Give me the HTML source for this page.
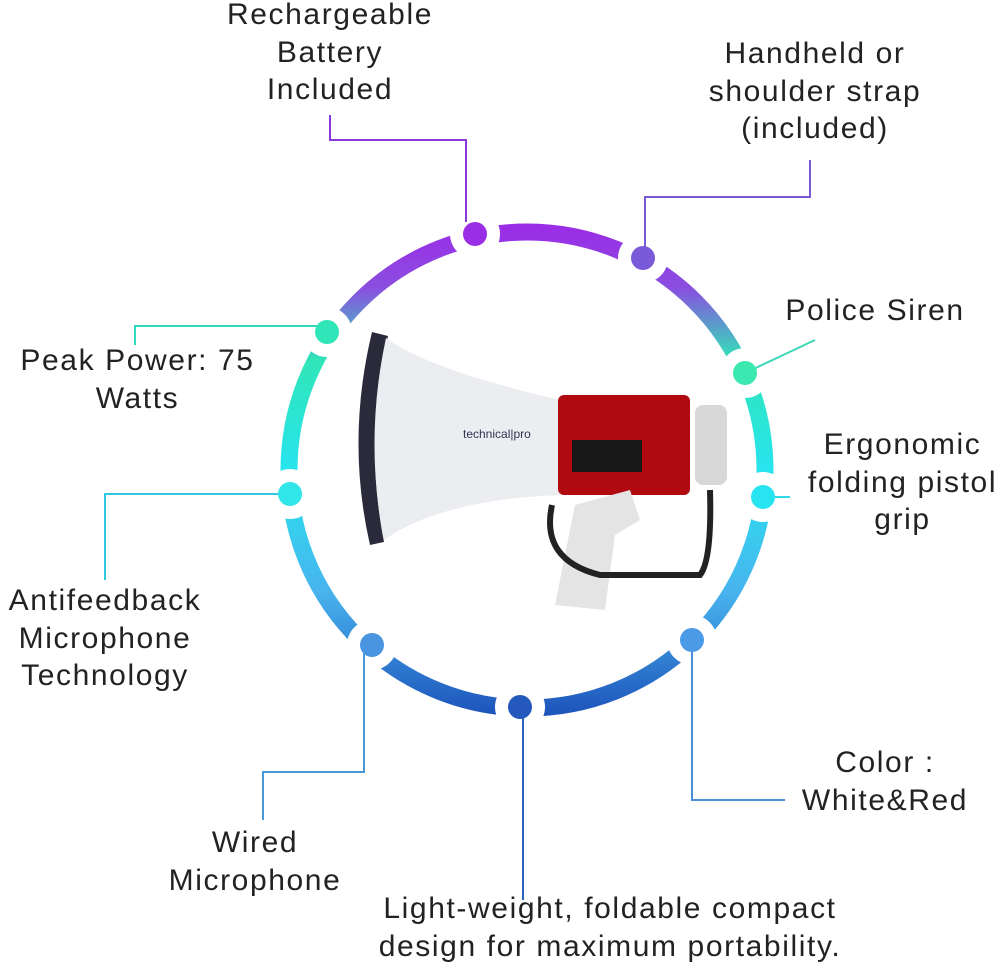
<!DOCTYPE html><html><head><style>
body{margin:0;width:1000px;height:969px;background:#fff;overflow:hidden;position:relative;font-family:"Liberation Sans",sans-serif;color:#222}
.t{position:absolute;font-size:30px;letter-spacing:1.6px;line-height:37.5px;text-align:center;white-space:nowrap}
</style></head><body>
<svg width="1000" height="969" style="position:absolute;left:0;top:0">
<defs>
<linearGradient id="g" x1="0" y1="230" x2="0" y2="712" gradientUnits="userSpaceOnUse">
<stop offset="0" stop-color="#9a2ee6"/><stop offset="0.12" stop-color="#8a4ee0"/><stop offset="0.27" stop-color="#30e6b8"/><stop offset="0.5" stop-color="#28e4ee"/><stop offset="0.75" stop-color="#48b4ee"/><stop offset="1" stop-color="#1e56bc"/>
</linearGradient>
</defs>
<circle cx="527" cy="470" r="238" fill="none" stroke="url(#g)" stroke-width="17"/>
<g fill="#fff">
<circle cx="475" cy="234" r="25"/><circle cx="643" cy="258" r="25"/><circle cx="745" cy="373" r="25"/><circle cx="763" cy="497" r="25"/><circle cx="692" cy="640" r="25"/><circle cx="520" cy="707" r="25"/><circle cx="372" cy="645" r="25"/><circle cx="290" cy="494" r="25"/><circle cx="327" cy="332" r="25"/>
</g>
<g fill="none" stroke-width="2">
<polyline points="466,222 466,140 330,140 330,115" stroke="#8a3ad8"/>
<polyline points="645,250 645,197 810,197 810,160" stroke="#7a5ad8"/>
<line x1="745" y1="373" x2="815" y2="340" stroke="#40d8b8"/>
<line x1="763" y1="497" x2="790" y2="497" stroke="#30d8e8"/>
<polyline points="327,326 135,326 135,345" stroke="#30d8c0"/>
<polyline points="290,494 105,494 105,580" stroke="#30c8e0"/>
<polyline points="364,645 364,772 263,772 263,820" stroke="#4898d8"/>
<line x1="523" y1="707" x2="523" y2="900" stroke="#2a60c0"/>
<polyline points="692,640 692,800 785,800" stroke="#4a90d8"/>
</g>
<circle cx="475" cy="234" r="12" fill="#9a2ee6"/><circle cx="643" cy="258" r="12" fill="#7a5ad8"/><circle cx="745" cy="373" r="12" fill="#3ae8b0"/><circle cx="763" cy="497" r="12" fill="#28e4f0"/><circle cx="692" cy="640" r="12" fill="#4a9ae6"/><circle cx="520" cy="707" r="12" fill="#2458bc"/><circle cx="372" cy="645" r="12" fill="#4a94e0"/><circle cx="290" cy="494" r="12" fill="#30e6e8"/><circle cx="327" cy="332" r="12" fill="#30e6b8"/>
<!-- megaphone -->
<path d="M372,332 Q346,440 370,545 L384,542 Q364,440 388,336 Z" fill="#2a2a3a"/>
<path d="M386,338 Q430,370 560,400 L560,495 Q440,500 384,540 Q364,440 386,338 Z" fill="#ecedf0"/>
<rect x="558" y="395" width="132" height="100" rx="6" fill="#b00a10"/>
<rect x="572" y="440" width="70" height="32" fill="#181818"/>
<rect x="695" y="405" width="32" height="80" rx="8" fill="#d8d8d8"/>
<path d="M575,505 L630,490 L640,520 L615,535 L605,610 L555,605 Z" fill="#e4e4e4"/>
<path d="M552,505 Q540,560 600,575 L700,575 Q712,560 710,490" fill="none" stroke="#222" stroke-width="6"/>
<text x="463" y="438" font-size="12" fill="#335" font-family="Liberation Sans">technical|pro</text>
</svg>
<div class="t" style="left:180px;top:-4px;width:300px">Rechargeable<br>Battery<br>Included</div>
<div class="t" style="left:665px;top:35px;width:300px">Handheld or<br>shoulder strap<br>(included)</div>
<div class="t" style="left:760px;top:292px;width:230px">Police Siren</div>
<div class="t" style="left:770px;top:426px;width:265px">Ergonomic<br>folding pistol<br>grip</div>
<div class="t" style="left:-15px;top:342px;width:305px">Peak Power: 75<br>Watts</div>
<div class="t" style="left:-30px;top:582px;width:270px">Antifeedback<br>Microphone<br>Technology</div>
<div class="t" style="left:125px;top:824px;width:260px">Wired<br>Microphone</div>
<div class="t" style="left:280px;top:890px;width:660px">Light-weight, foldable compact<br>design for maximum portability.</div>
<div class="t" style="left:770px;top:744px;width:230px">Color :<br>White&amp;Red</div>
</body></html>
